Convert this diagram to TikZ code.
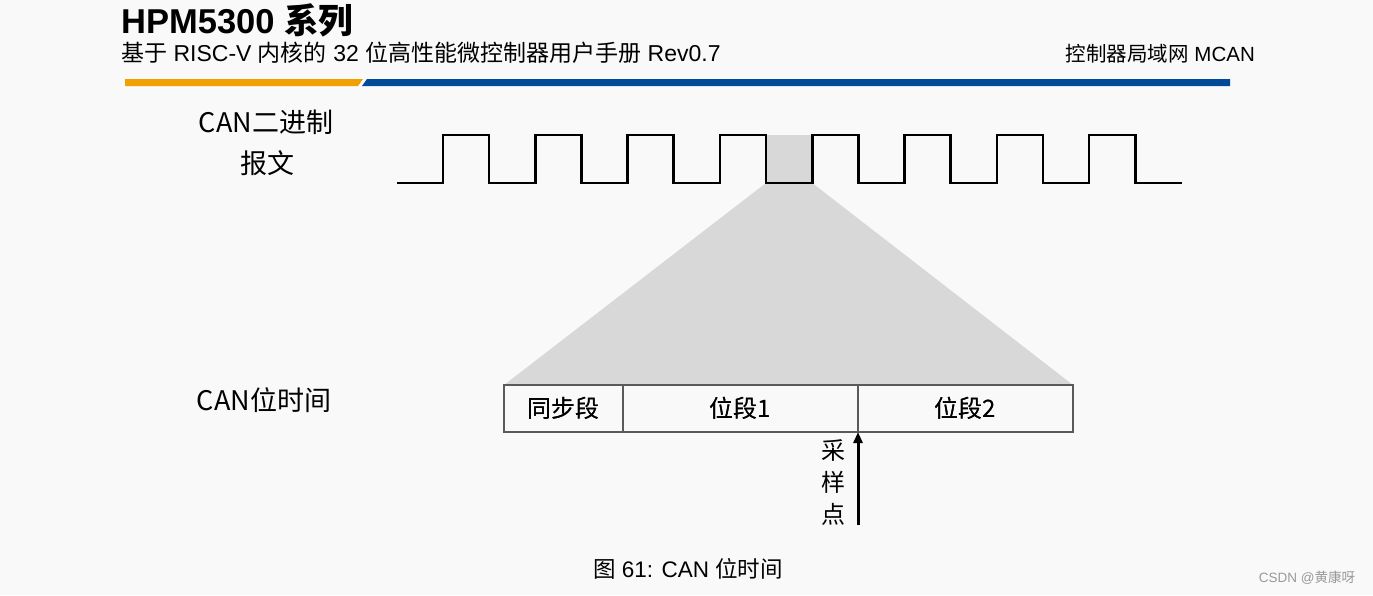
\documentclass[tikz,border=0pt]{standalone}
\usepackage{fontspec}
\setmainfont{Liberation Sans}
\newfontfamily\cjk{Noto Sans CJK SC}
\usetikzlibrary{arrows.meta}
\definecolor{bg}{RGB}{249,249,250}
\definecolor{zoomgray}{RGB}{216,216,216}
\definecolor{barorange}{RGB}{240,160,0}
\definecolor{barblue}{RGB}{0,74,152}
\definecolor{boxline}{RGB}{90,90,90}
\tikzset{
  segbox/.style={draw=boxline, line width=1.4pt, minimum height=47pt, inner sep=0pt, outer sep=0pt, anchor=north west, font=\cjk\fontsize{24}{24}\selectfont},
  lbl/.style={inner sep=0pt, font=\cjk\fontsize{27}{27}\selectfont},
  wave/.style={line width=2.6pt, black, line join=miter},
  samplearrow/.style={draw=black, line width=3pt, -{Triangle[length=11pt,width=9pt]}}
}
\begin{document}
\begin{tikzpicture}[x=1pt,y=-1pt]
\fill[bg] (0,0) rectangle (1373,595);
\useasboundingbox (0,0) rectangle (1373,595);
% header
\node[anchor=base west, inner sep=0pt, font=\fontsize{34.5}{34.5}\selectfont\bfseries] (title) at (121,33) {HPM5300 {\cjk\bfseries 系列}};
\node[anchor=base west, inner sep=0pt, font=\fontsize{23}{23}\selectfont] (subtitle) at (121,61) {{\cjk 基于} RISC-V {\cjk 内核的} 32 {\cjk 位高性能微控制器用户手册} Rev0.7};
\node[anchor=base east, inner sep=0pt, font=\fontsize{20.5}{20.5}\selectfont] (chapter) at (1255,61) {{\cjk 控制器局域网} MCAN};
\fill[barorange] (125,79) -- (363,79) -- (358,86) -- (125,86) -- cycle;
\fill[barblue] (367,79) -- (1230,79) -- (1230,86) -- (362,86) -- cycle;
% labels
\node[lbl] (binlbl) at (266,122) {CAN二进制};
\node[lbl] (binlbl2) at (267,163) {报文};
\node[lbl] (bitlbl) at (264,400) {CAN位时间};
% segments
\node[segbox, minimum width=119pt] (sync) at (504,385) {同步段};
\node[segbox, minimum width=235pt] (ps1) at (sync.north east) {位段1};
\node[segbox, minimum width=215pt] (ps2) at (ps1.north east) {位段2};
% zoom region
\coordinate (zl) at (766,183);
\coordinate (zr) at (812.2,183);
\fill[zoomgray] (766,135) rectangle (812.2,183);
\fill[zoomgray] (zl) -- (zr) -- (ps2.north east) -- (sync.north west) -- cycle;
\node[segbox, minimum width=119pt] at (504,385) {同步段};
\node[segbox, minimum width=235pt] at (sync.north east) {位段1};
\node[segbox, minimum width=215pt] at (ps1.north east) {位段2};
% waveform
\draw[wave] (397,183)
  \foreach \k in {0,2,...,14} {
    -- ({443+46.15*\k},183) -- ({443+46.15*\k},135) -- ({443+46.15*(\k+1)},135) -- ({443+46.15*(\k+1)},183)
  } -- (1182,183);
% sample point
\coordinate (sp) at (858,525);
\path[samplearrow] (sp) -- (ps1.south east);
\node[lbl, align=center, font=\cjk\fontsize{24}{32}\selectfont] (splbl) at (833,482) {采\\样\\点};
% caption
\node[inner sep=0pt, font=\fontsize{22.5}{22.5}\selectfont] (caption) at (688,569) {{\cjk 图} 61: CAN {\cjk 位时间}};
\node[inner sep=0pt, font=\fontsize{13.5}{13.5}\selectfont, text=gray!80] (wm) at (1307,578) {CSDN @{\cjk 黄康呀}};
\end{tikzpicture}
\end{document}
